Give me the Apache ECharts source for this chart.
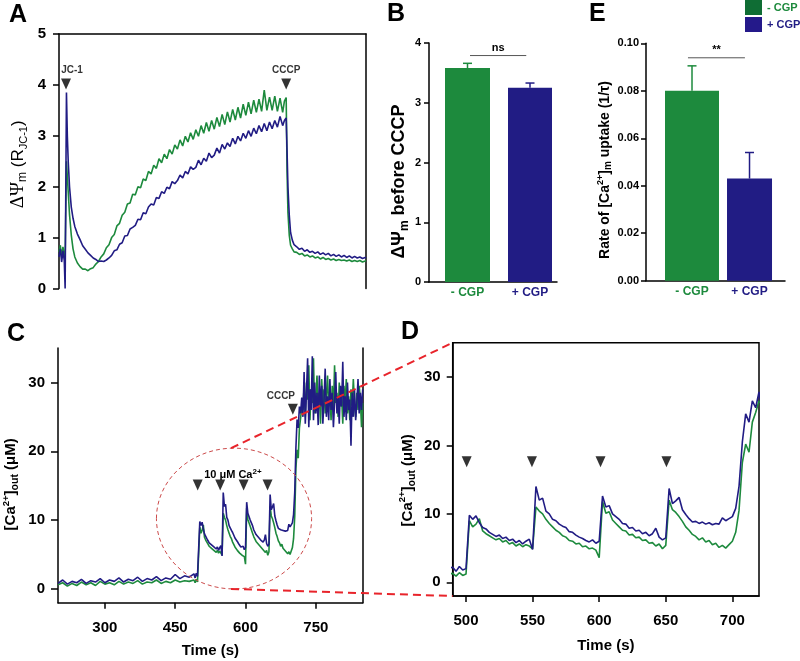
<!DOCTYPE html>
<html><head><meta charset="utf-8">
<script src="https://cdn.jsdelivr.net/npm/echarts@6/dist/echarts.min.js"></script>
<style>html,body{margin:0;padding:0;background:#fff}#c{width:800px;height:661px}</style>
</head><body><div id="c"></div>
<script>
// ---------------- DATA ----------------
// Panel A: JC-1 ratio traces (time in s)
const timeA = [0,3,6,9,12,14,17,19,21,24,28,32,
 36,42,48,54,60,66,72,78,84,90,96,102,108,114,120,126,132,138,144,150,156,162,168,174,
 180,186,192,198,204,210,216,222,228,234,240,246,252,258,264,270,276,282,288,294,300,306,312,318,324,330,336,342,348,354,
 360,366,372,378,384,390,396,402,408,414,420,426,432,438,444,450,456,462,468,474,480,486,492,498,504,510,
 514,518,520,522,525,528,532,536,
 542,548,554,560,566,572,578,584,590,596,602,608,614,620,626,632,638,644,650,656,662,668,674,680,686,692,698,700];
const blueA = [0.62,0.78,0.52,0.74,0.55,0.0,3.85,3.0,2.5,2.0,1.6,1.38,
 1.22,1.07,0.96,0.84,0.77,0.7,0.65,0.6,0.57,0.53,0.54,0.53,0.56,0.6,0.65,0.74,0.76,0.87,0.9,1.03,1.04,1.17,1.2,1.24,
 1.36,1.35,1.49,1.47,1.6,1.66,1.64,1.79,1.77,1.9,1.87,1.99,1.96,2.1,2.06,2.12,2.23,2.17,2.3,2.25,2.39,2.34,2.38,2.52,2.43,2.56,2.5,2.66,2.57,2.62,
 2.76,2.66,2.83,2.74,2.86,2.79,2.95,2.84,2.99,2.9,3.05,2.95,3.1,2.99,3.15,3.04,3.2,3.08,3.24,3.1,3.27,3.14,3.3,3.17,3.38,3.2,
 3.3,3.35,2.7,2.0,1.45,1.1,0.95,0.86,
 0.82,0.77,0.79,0.73,0.76,0.71,0.73,0.69,0.72,0.67,0.7,0.66,0.69,0.64,0.67,0.63,0.66,0.62,0.65,0.61,0.64,0.6,0.63,0.6,0.62,0.59,0.61,0.6];
const greenA = [0.72,0.85,0.62,0.82,0.66,0.6,2.5,2.2,1.9,1.45,1.05,0.78,
 0.62,0.5,0.43,0.38,0.38,0.35,0.39,0.41,0.48,0.53,0.62,0.68,0.8,0.86,1.0,1.06,1.23,1.28,1.44,1.5,1.66,1.68,1.85,1.84,
 2.0,1.98,2.15,2.12,2.3,2.25,2.42,2.36,2.55,2.47,2.64,2.55,2.73,2.64,2.82,2.74,2.92,2.8,2.99,2.88,3.06,2.93,3.12,2.99,3.2,3.05,3.26,3.09,3.3,3.13,
 3.36,3.18,3.42,3.22,3.47,3.27,3.52,3.31,3.56,3.35,3.62,3.4,3.66,3.43,3.7,3.46,3.72,3.48,3.9,3.5,3.76,3.5,3.78,3.48,3.74,3.46,
 3.68,3.75,2.3,1.5,1.05,0.85,0.78,0.72,
 0.71,0.67,0.69,0.64,0.66,0.62,0.64,0.6,0.62,0.58,0.61,0.57,0.59,0.56,0.58,0.55,0.57,0.55,0.56,0.54,0.56,0.53,0.55,0.53,0.55,0.52,0.54,0.55];
const arrowTimesA = [16, 518];
const arrowLabelsA = ['JC-1', 'CCCP'];

// Panels B and E: bar means and SEM
const groups = ['- CGP', '+ CGP'];
const meanB = [3.58, 3.25];
const semB = [0.08, 0.08];
const meanE = [0.080, 0.043];
const semE = [0.0105, 0.011];

// Panels C and D: external Ca2+ traces (time in s)
const timeCD = [200,210,220,230,240,250,260,270,280,290,300,310,320,330,340,350,360,370,380,390,400,410,420,430,440,450,460,470,480,
 490,492.5,495,497.5,500,502.5,505,507.5,510,512.5,
 515,517.5,520,522.5,525,527.5,530,532.5,535,537.5,
 540,542.5,545,547.5,550,552.5,555,557.5,560,562.5,
 565,567.5,570,572.5,575,577.5,580,582.5,585,587.5,
 590,592.5,595,597.5,600,602.5,605,607.5,610,612.5,
 615,617.5,620,622.5,625,627.5,630,632.5,635,637.5,
 640,642.5,645,647.5,650,652.5,655,657.5,660,662.5,
 665,667.5,670,672.5,675,677.5,680,682.5,685,687.5,
 690,692.5,695,697.5,700,702.5,705,707.5,710,712.5,
 715,717.5,720,
 722.5,725,727.5,730,732.5,735,737.5,740,742.5,745,
 747.5,750,752.5,755,757.5,760,762.5,765,767.5,770,
 772.5,775,777.5,780,782.5,785,787.5,790,792.5,795,
 797.5,800,802.5,805,807.5,810,812.5,815,817.5,820,
 822.5,825,827.5,830,832.5,835,837.5,840,842.5,845,
 847.5,850];
const blueCD = [0.8,1.3,0.7,1.1,0.9,1.4,0.8,1.2,1.0,1.5,0.9,1.3,1.1,1.6,1.0,1.4,1.2,1.7,1.1,1.5,1.3,1.8,1.2,1.6,1.4,2.1,1.5,1.9,1.7,
 2.2,1.6,2.3,1.8,2.0,9.8,9.2,9.7,8.7,8.0,
 7.8,7.3,7.0,6.7,6.9,6.4,6.6,6.1,6.3,5.8,
 6.1,5.6,6.0,6.3,4.8,14.0,12.0,12.3,10.4,10.0,
 9.2,9.0,8.5,8.2,8.0,7.4,7.3,6.9,6.6,6.4,
 6.1,5.9,6.2,5.7,6.0,12.6,11.0,11.2,10.0,9.6,
 9.2,8.6,8.5,7.9,8.0,7.5,7.6,7.1,7.3,6.8,
 7.1,7.9,6.6,6.2,6.5,13.7,11.5,11.9,12.4,10.6,
 9.9,9.3,8.8,8.9,8.6,8.8,8.5,8.7,8.4,8.6,
 8.5,9.4,9.0,9.3,9.6,10.8,14.0,20.5,24.6,23.4,
 26.5,25.5,27.8,
 25.0,31.5,24.0,28.5,33.5,23.5,29.0,26.0,33.8,24.5,
 30.0,25.5,28.5,23.8,31.0,26.5,29.5,24.0,27.5,32.0,
 25.0,28.0,24.5,30.5,26.0,28.5,23.5,27.0,31.5,25.5,
 28.0,24.0,29.5,26.5,33.0,25.0,28.0,24.5,30.0,26.0,
 27.5,20.8,28.5,25.0,29.0,24.5,27.0,30.5,25.5,28.5,
 26.0,29.0];
const greenCD = [0.6,0.9,0.4,0.8,0.5,1.0,0.6,0.9,0.5,1.1,0.7,0.9,0.6,1.1,0.7,1.0,0.8,1.2,0.7,1.0,0.9,1.3,0.8,1.1,0.9,1.3,1.0,1.2,1.1,
 1.3,0.9,1.4,1.0,1.2,9.0,8.1,8.5,9.3,7.5,
 7.1,6.8,6.5,6.2,6.4,5.9,6.1,5.6,5.8,5.3,
 5.6,5.2,5.5,5.3,4.9,11.0,10.4,10.0,9.2,8.6,
 8.1,7.6,7.3,6.8,6.6,6.1,6.0,5.6,5.7,5.2,
 5.3,4.9,5.0,4.7,3.6,11.8,10.1,10.3,9.1,8.6,
 8.1,7.6,7.5,6.9,7.0,6.5,6.6,6.1,6.2,5.7,
 5.8,5.3,5.6,4.9,5.4,12.0,10.6,10.2,9.6,8.9,
 8.1,7.6,7.0,6.7,6.2,6.5,5.9,6.1,5.5,5.7,
 5.1,5.4,5.0,5.5,6.0,7.3,10.5,17.5,20.2,19.0,
 23.4,24.8,26.5,
 26.0,29.5,25.0,30.0,27.5,32.5,24.5,29.0,27.0,33.5,
 25.5,28.0,31.0,26.0,28.5,24.0,30.5,27.0,29.0,25.5,
 28.0,31.0,26.5,28.5,24.5,29.5,26.0,32.5,27.0,28.5,
 25.0,30.0,26.5,28.0,24.0,29.5,27.0,30.5,25.5,28.0,
 24.5,29.0,26.5,30.5,27.0,25.0,28.5,26.0,29.5,27.5,
 23.5,27.0];
const caTimesC = [498, 546, 596, 647];
const cccpTimeC = 701;
const caTimesD = [500.5, 549.5, 601, 650.5];
const xTicksC = [300, 450, 600, 750];
const xTicksD = [500, 550, 600, 650, 700];
const yTicksCD = [0, 10, 20, 30];

// ---------------- STYLE ----------------
const F = "'Liberation Sans', Arial, Helvetica, sans-serif";
const GREEN = '#1d8a3d', BLUE = '#211c84';
const LEG_G = '#0f6d34', LEG_B = '#24198a';
const TRI = 'path://M0,0L10,0L5,11Z';

function merge(a, b) {
  const o = Object.assign({}, a);
  for (const k in b) {
    const bv = b[k], av = a[k];
    if (bv && typeof bv === 'object' && !Array.isArray(bv) && av && typeof av === 'object' && !Array.isArray(av)) o[k] = merge(av, bv);
    else o[k] = bv;
  }
  return o;
}
const AXIS = {
  type: 'value',
  axisLine: {show: true, onZero: false, lineStyle: {color: '#000', width: 1.5}},
  axisTick: {show: true, inside: false, length: 6, lineStyle: {color: '#000', width: 1.5}},
  axisLabel: {show: true, fontFamily: F, fontWeight: 'bold', color: '#000', fontSize: 14},
  splitLine: {show: false}
};
const ax = o => merge(AXIS, o);
const bare = o => merge(AXIS, merge({axisTick: {show: false}, axisLabel: {show: false}}, o));

const tk = (size, weight, extra) => Object.assign({fontFamily: F, fontSize: size, fontWeight: weight, color: '#000', lineHeight: Math.round(size * 1.3), verticalAlign: 'middle'}, extra || {});
const caName = {
  b: tk(15, 'bold'),
  sp: tk(9.5, 'bold', {lineHeight: 9, verticalAlign: 'top'}),
  sb: tk(10.5, 'bold', {lineHeight: 10, verticalAlign: 'bottom'})
};
const groupLabel = {
  customValues: [0, 1], margin: 5, fontSize: 12,
  formatter: v => (v < 0.5 ? '{g|' + groups[0] + '}' : '{b|' + groups[1] + '}'),
  rich: {g: {color: GREEN, fontWeight: 'bold', fontFamily: F, fontSize: 12}, b: {color: BLUE, fontWeight: 'bold', fontFamily: F, fontSize: 12}}
};

function barSeries(name, xi, yi, idx, mean, sem, color, width) {
  return {
    type: 'custom', name: name, xAxisIndex: xi, yAxisIndex: yi,
    itemStyle: {color: color},
    encode: {x: 0, y: 1},
    data: [[idx, mean[idx], sem[idx]]],
    renderItem: function (params, api) {
      const x = api.value(0), v = api.value(1), e = api.value(2);
      const p0 = api.coord([x, 0]), p1 = api.coord([x, v]), p2 = api.coord([x, v + e]);
      return {type: 'group', children: [
        {type: 'rect', shape: {x: p0[0] - width / 2, y: p1[1], width: width, height: p0[1] - p1[1]}, style: {fill: color}},
        {type: 'line', shape: {x1: p1[0], y1: p1[1], x2: p2[0], y2: p2[1]}, style: {stroke: color, lineWidth: 1.5}},
        {type: 'line', shape: {x1: p2[0] - 4.5, y1: p2[1], x2: p2[0] + 4.5, y2: p2[1]}, style: {stroke: color, lineWidth: 1.5}}
      ]};
    }
  };
}
const lineSeries = (xi, yi, t, v, color, z) => ({
  type: 'line', xAxisIndex: xi, yAxisIndex: yi, symbol: 'none', silent: true, z: z,
  data: t.map((x, i) => [x, v[i]]),
  lineStyle: {color: color, width: 1.6}, itemStyle: {color: color}
});
const arrowSeries = (xi, yi, pts, labels, offsets) => ({
  type: 'scatter', xAxisIndex: xi, yAxisIndex: yi, symbol: TRI, symbolSize: [10, 11], silent: true, z: 10,
  itemStyle: {color: '#000'},
  data: pts.map((p, i) => ({value: p, label: {offset: offsets ? offsets[i] : [0, 0]}})),
  label: {show: !!labels, position: 'top', distance: 3, fontFamily: F, fontWeight: 'bold', fontSize: 10, color: '#000',
    formatter: p => (labels ? labels[p.dataIndex] : '')}
});

const chart = echarts.init(document.getElementById('c'), null, {renderer: 'canvas'});
const option = {
  animation: false,
  backgroundColor: '#fff',
  title: [
    {text: 'A', left: 9, top: 3},
    {text: 'B', left: 387, top: 2},
    {text: 'E', left: 589, top: 2},
    {text: 'C', left: 7, top: 322},
    {text: 'D', left: 401, top: 320}
  ].map(t => Object.assign({padding: 0, textStyle: {fontFamily: F, fontSize: 25, fontWeight: 'bold', color: '#000'}}, t)),
  legend: {
    orient: 'vertical', left: 745, top: 0, itemWidth: 17, itemHeight: 15, itemGap: 2, padding: 0, selectedMode: false,
    textStyle: {fontFamily: F, fontSize: 11, fontWeight: 'bold'},
    data: [
      {name: groups[0], icon: 'rect', itemStyle: {color: LEG_G}, textStyle: {color: GREEN}},
      {name: groups[1], icon: 'rect', itemStyle: {color: LEG_B}, textStyle: {color: BLUE}}
    ]
  },
  grid: [
    {left: 59, top: 34, width: 307, height: 254.5},
    {left: 429, top: 43, width: 128, height: 239},
    {left: 646, top: 43.3, width: 139, height: 237.4},
    {left: 56, top: 348, width: 306.7, height: 254.7},
    {left: 452.7, top: 342.7, width: 306.3, height: 253.3, show: true, borderColor: '#000', borderWidth: 1.5}
  ],
  xAxis: [
    ax({gridIndex: 0, min: 0, max: 700, show: false}),
    bare({gridIndex: 0, min: 0, max: 700, position: 'top'}),
    ax({gridIndex: 1, min: -0.616, max: 1.432, axisTick: {show: false}, axisLabel: groupLabel}),
    ax({gridIndex: 2, min: -0.8, max: 1.617, axisTick: {show: false}, axisLabel: groupLabel}),
    ax({gridIndex: 3, min: 200, max: 850, axisTick: {customValues: xTicksC}, axisLabel: {customValues: xTicksC, fontSize: 15, margin: 18},
      name: 'Time (s)', nameLocation: 'middle', nameGap: 41, nameTextStyle: {fontFamily: F, fontWeight: 'bold', fontSize: 15, color: '#000'}}),
    ax({gridIndex: 4, min: 490, max: 720, axisTick: {customValues: xTicksD}, axisLabel: {customValues: xTicksD, fontSize: 15, margin: 17},
      name: 'Time (s)', nameLocation: 'middle', nameGap: 42, nameTextStyle: {fontFamily: F, fontWeight: 'bold', fontSize: 15, color: '#000'}})
  ],
  yAxis: [
    ax({gridIndex: 0, min: 0, max: 5, interval: 1, axisLabel: {margin: 13, fontSize: 15},
      name: '{g|ΔΨ}{gs|m}{n| (R}{s|JC-1}{n|)}', nameLocation: 'middle', nameRotate: 90, nameGap: 30,
      nameTextStyle: {padding: [0, 6, 0, 0], rich: {
        g: {fontFamily: "'Liberation Serif','DejaVu Serif',serif", fontSize: 19, lineHeight: 22, verticalAlign: 'middle', color: '#000'},
        gs: {fontFamily: F, fontSize: 12, lineHeight: 12, verticalAlign: 'bottom', color: '#000'},
        n: {fontFamily: F, fontSize: 17, lineHeight: 22, verticalAlign: 'middle', color: '#000'},
        s: {fontFamily: F, fontSize: 11, lineHeight: 11, verticalAlign: 'bottom', color: '#000'}
      }}}),
    bare({gridIndex: 0, min: 0, max: 5, position: 'right'}),
    ax({gridIndex: 1, min: 0, max: 4, interval: 1, axisTick: {length: 5}, axisLabel: {fontSize: 11, margin: 8},
      name: '{b|ΔΨ}{bs|m}{b| before CCCP}', nameLocation: 'middle', nameRotate: 90, nameGap: 13,
      nameTextStyle: {padding: [0, 38, 0, 0], rich: {b: tk(18, 'bold'), bs: tk(12, 'bold', {lineHeight: 12, verticalAlign: 'bottom'})}}}),
    ax({gridIndex: 2, min: 0, max: 0.1, interval: 0.02, axisTick: {length: 5}, axisLabel: {fontSize: 11, margin: 7, formatter: v => v.toFixed(2)},
      name: '{b|Rate of [Ca}{sp|2+}{b|]}{sb|m}{b| uptake (1/τ)}', nameLocation: 'middle', nameRotate: 90, nameGap: 29,
      nameTextStyle: {padding: [0, 16, 0, 0], rich: {b: tk(14, 'bold'), sp: tk(9, 'bold', {lineHeight: 9, verticalAlign: 'top'}), sb: tk(10, 'bold', {lineHeight: 10, verticalAlign: 'bottom'})}}}),
    ax({gridIndex: 3, min: -2, max: 35, axisTick: {customValues: yTicksCD, length: 7}, axisLabel: {customValues: yTicksCD, fontSize: 15, margin: 13},
      name: '{b|[Ca}{sp|2+}{b|]}{sb|out}{b| (μM)}', nameLocation: 'middle', nameRotate: 90, nameGap: 37, nameTextStyle: {padding: [0, 18, 0, 0], rich: caName}}),
    bare({gridIndex: 3, min: -2, max: 35, position: 'right'}),
    ax({gridIndex: 4, min: -2, max: 35, axisTick: {customValues: yTicksCD, length: 6}, axisLabel: {customValues: yTicksCD, fontSize: 15, margin: 12},
      name: '{b|[Ca}{sp|2+}{b|]}{sb|out}{b| (μM)}', nameLocation: 'middle', nameRotate: 90, nameGap: 35, nameTextStyle: {padding: [0, 22, 0, 0], rich: caName}})
  ],
  series: [
    lineSeries(0, 0, timeA, greenA, GREEN, 2),
    lineSeries(0, 0, timeA, blueA, BLUE, 3),
    arrowSeries(0, 0, arrowTimesA.map(t => [t, 4.02]), arrowLabelsA, [[6, 0], [0, 0]]),
    barSeries(groups[0], 2, 2, 0, meanB, semB, GREEN, 45),
    barSeries(groups[1], 2, 2, 1, meanB, semB, BLUE, 44),
    barSeries(groups[0], 3, 3, 0, meanE, semE, GREEN, 54),
    barSeries(groups[1], 3, 3, 1, meanE, semE, BLUE, 45),
    lineSeries(4, 4, timeCD, greenCD, GREEN, 2),
    lineSeries(4, 4, timeCD, blueCD, BLUE, 3),
    arrowSeries(4, 4, caTimesC.map(t => [t, 15.1]), null),
    arrowSeries(4, 4, [[cccpTimeC, 26.1]], ['CCCP'], [[-12, 0]]),
    lineSeries(5, 6, timeCD, greenCD, GREEN, 2),
    lineSeries(5, 6, timeCD, blueCD, BLUE, 3),
    arrowSeries(5, 6, caTimesD.map(t => [t, 17.6]), null)
  ]
};
chart.setOption(option);

// ---------- annotations placed through the axes' own scales ----------
const at = (si, v) => chart.convertToPixel({seriesIndex: si}, v);
const zoomRegion = {t0: 410, t1: 741, v0: 0, v1: 20.45};  // dashed ellipse in C (data units)
const e0 = at(7, [zoomRegion.t0, zoomRegion.v0]), e1 = at(7, [zoomRegion.t1, zoomRegion.v1]);
const cx = (e0[0] + e1[0]) / 2, cy = (e0[1] + e1[1]) / 2, rx = Math.abs(e1[0] - e0[0]) / 2, ry = Math.abs(e1[1] - e0[1]) / 2;
const dTop = at(11, [490, 35]), dBot = at(11, [490, -2]);
const sigB = {from: 0.04, to: 0.94, level: 3.79, text: 'ns'};
const sigE = {from: -0.07, to: 0.92, level: 0.0939, text: '**'};
function sig(si, s) {
  const a = at(si, [s.from, s.level]), b = at(si, [s.to, s.level]);
  return [
    {type: 'line', silent: true, z: 20, shape: {x1: a[0], y1: a[1], x2: b[0], y2: b[1]}, style: {stroke: '#555', lineWidth: 1}},
    {type: 'text', silent: true, z: 20, style: {text: s.text, x: (a[0] + b[0]) / 2, y: a[1] - 2, align: 'center', verticalAlign: 'bottom',
      font: 'bold 11px ' + F, fill: '#000'}}
  ];
}
const caTxt = at(7, [573, 16.6]);
chart.setOption({graphic: [
  {type: 'ellipse', silent: true, z: 50, shape: {cx: cx, cy: cy, rx: rx, ry: ry}, style: {fill: 'none', stroke: '#cc4b4b', lineWidth: 1, lineDash: [4, 3]}},
  {type: 'line', silent: true, z: 50, shape: {x1: cx - 3, y1: cy - ry, x2: dTop[0], y2: dTop[1]}, style: {stroke: '#e8242b', lineWidth: 2, lineDash: [8, 5]}},
  {type: 'line', silent: true, z: 50, shape: {x1: cx - 3, y1: cy + ry, x2: dBot[0], y2: dBot[1]}, style: {stroke: '#e8242b', lineWidth: 2, lineDash: [8, 5]}},
  {type: 'text', silent: true, z: 20, style: {text: '{n|10 μM Ca}{sp|2+}', x: caTxt[0], y: caTxt[1], align: 'center', verticalAlign: 'middle',
    rich: {n: tk(11, 'bold', {lineHeight: 14}), sp: tk(8, 'bold', {lineHeight: 8, verticalAlign: 'top'})}}}
].concat(sig(3, sigB), sig(5, sigE))});
</script>
</body></html>
